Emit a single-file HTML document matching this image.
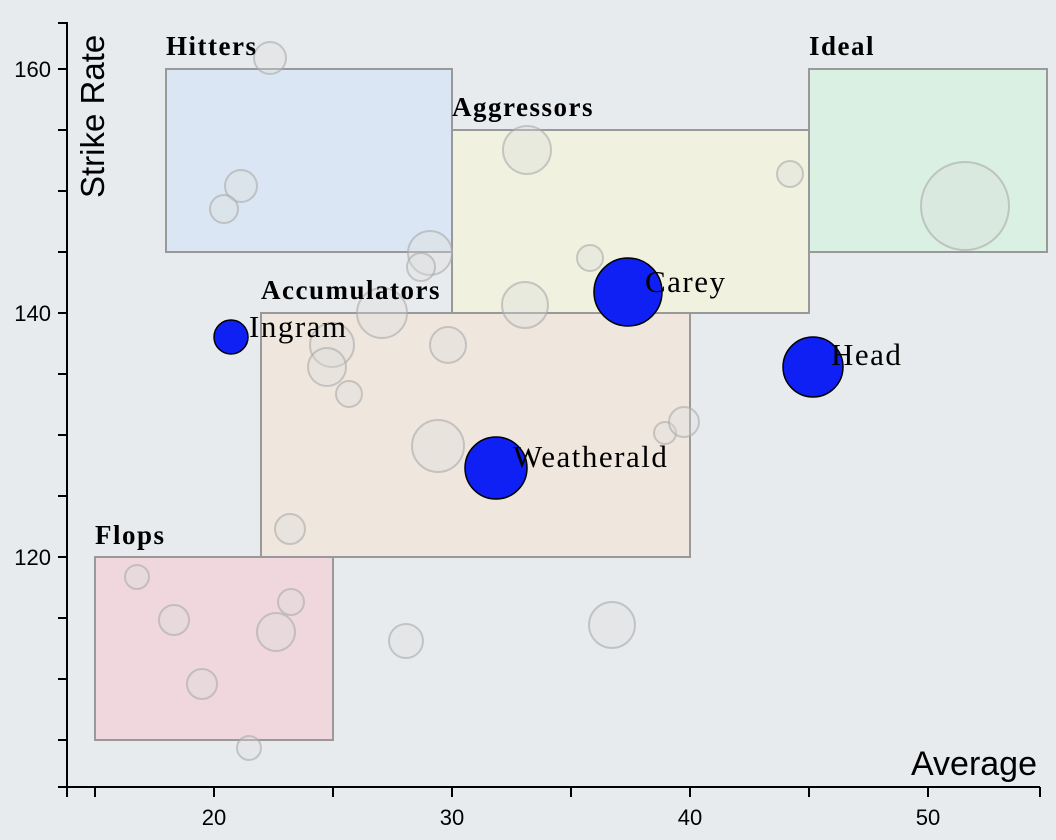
<!DOCTYPE html>
<html><head><style>
html,body{margin:0;padding:0;background:#e8ebee;}
svg{display:block;}
.ax{font-family:"Liberation Sans",sans-serif;font-size:22px;fill:#000;}
.q{font-family:"Liberation Serif",serif;font-weight:bold;font-size:27px;letter-spacing:1.5px;fill:#000;}
.n{font-family:"Liberation Serif",serif;font-size:31px;letter-spacing:1.5px;fill:#000;}
.g{fill:rgba(222,222,222,0.35);stroke:rgba(170,170,170,0.6);stroke-width:2;}
.b{fill:#0f20f5;stroke:#000;stroke-width:1.5;}
.bx{stroke:#999;stroke-width:2;}
</style></head><body>
<svg width="1056" height="840" xmlns="http://www.w3.org/2000/svg">
<rect width="1056" height="840" fill="#e8ebee"/>
<rect class="bx" x="166" y="69" width="286" height="183" fill="#dae6f3"/>
<rect class="bx" x="452" y="130" width="357" height="183" fill="#f0f1df"/>
<rect class="bx" x="809" y="69" width="238" height="183" fill="#d9f0e2"/>
<rect class="bx" x="261" y="313" width="429" height="244" fill="#efe6de"/>
<rect class="bx" x="95" y="557" width="238" height="183" fill="#efd7dd"/>
<g class="g">
<circle cx="270" cy="58" r="16"/><circle cx="241" cy="186" r="16"/><circle cx="224" cy="209" r="14"/>
<circle cx="430" cy="253" r="22"/><circle cx="421" cy="267" r="14"/><circle cx="527" cy="150" r="24"/>
<circle cx="790" cy="174" r="13"/><circle cx="965" cy="206" r="44"/><circle cx="590" cy="258" r="13"/>
<circle cx="525" cy="305" r="23"/><circle cx="382" cy="313" r="25"/><circle cx="332" cy="345" r="22"/>
<circle cx="327" cy="367" r="19"/><circle cx="349" cy="394" r="13"/><circle cx="448" cy="345" r="18"/>
<circle cx="438" cy="446" r="26"/><circle cx="665" cy="433" r="11"/><circle cx="684" cy="422" r="15"/>
<circle cx="290" cy="529" r="15"/><circle cx="137" cy="577" r="12"/><circle cx="174" cy="620" r="15"/>
<circle cx="291" cy="602" r="13"/><circle cx="276" cy="632" r="19"/><circle cx="202" cy="684" r="15"/>
<circle cx="249" cy="748" r="12"/><circle cx="406" cy="641" r="17"/><circle cx="612" cy="625" r="23"/>
</g>
<g class="b">
<circle cx="231" cy="337" r="17"/><circle cx="628" cy="292" r="34"/><circle cx="813" cy="367" r="30"/><circle cx="496" cy="468" r="31"/>
</g>
<text class="q" x="166" y="55">Hitters</text>
<text class="q" x="452" y="116">Aggressors</text>
<text class="q" x="809" y="55">Ideal</text>
<text class="q" x="261" y="299">Accumulators</text>
<text class="q" x="95" y="544">Flops</text>
<text class="n" x="249" y="337">Ingram</text>
<text class="n" x="645" y="292">Carey</text>
<text class="n" x="831" y="365">Head</text>
<text class="n" x="513" y="467">Weatherald</text>
<g stroke="#000" stroke-width="2">
<line x1="67" y1="22" x2="67" y2="788"/>
<line x1="58" y1="787" x2="1040" y2="787"/>
<line x1="58" y1="23" x2="67" y2="23"/>
<line x1="58" y1="69" x2="67" y2="69"/><line x1="58" y1="130" x2="67" y2="130"/>
<line x1="58" y1="191" x2="67" y2="191"/><line x1="58" y1="252" x2="67" y2="252"/>
<line x1="58" y1="313" x2="67" y2="313"/><line x1="58" y1="374" x2="67" y2="374"/>
<line x1="58" y1="435" x2="67" y2="435"/><line x1="58" y1="496" x2="67" y2="496"/>
<line x1="58" y1="557" x2="67" y2="557"/><line x1="58" y1="618" x2="67" y2="618"/>
<line x1="58" y1="679" x2="67" y2="679"/><line x1="58" y1="740" x2="67" y2="740"/>
<line x1="67" y1="787" x2="67" y2="797"/><line x1="95" y1="787" x2="95" y2="797"/>
<line x1="214" y1="787" x2="214" y2="797"/><line x1="333" y1="787" x2="333" y2="797"/>
<line x1="452" y1="787" x2="452" y2="797"/><line x1="571" y1="787" x2="571" y2="797"/>
<line x1="690" y1="787" x2="690" y2="797"/><line x1="809" y1="787" x2="809" y2="797"/>
<line x1="928" y1="787" x2="928" y2="797"/><line x1="1040" y1="787" x2="1040" y2="797"/>
</g>
<g class="ax" text-anchor="end">
<text x="51" y="77">160</text><text x="51" y="321">140</text><text x="51" y="565">120</text>
</g>
<g class="ax" text-anchor="middle">
<text x="214" y="825">20</text><text x="452" y="825">30</text><text x="690" y="825">40</text><text x="928" y="825">50</text>
</g>
<text x="1037" y="775" text-anchor="end" font-family="Liberation Sans,sans-serif" font-size="34">Average</text>
<text transform="translate(104,198) rotate(-90)" font-family="Liberation Sans,sans-serif" font-size="33">Strike Rate</text>
</svg>
</body></html>
